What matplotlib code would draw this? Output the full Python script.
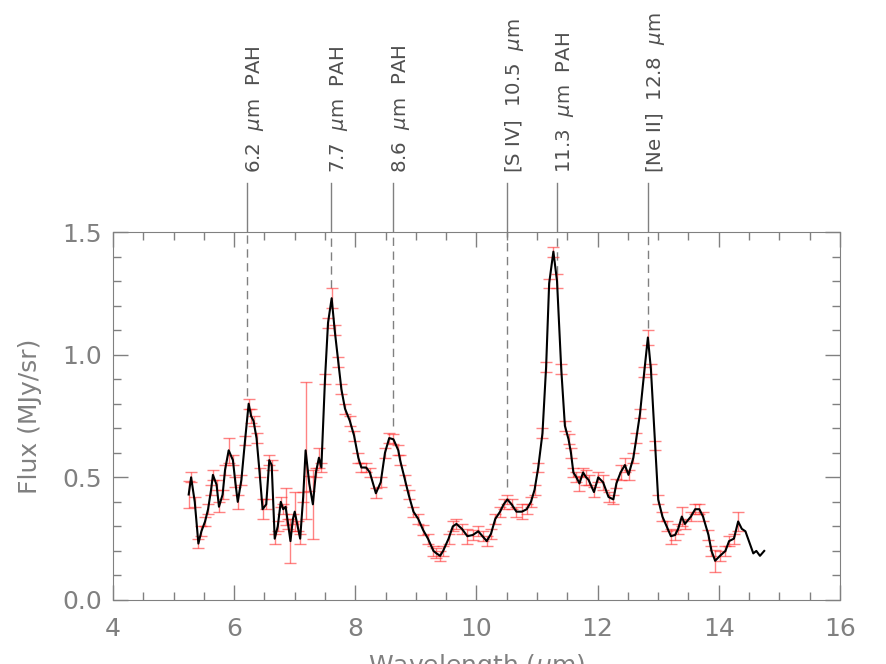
import matplotlib
matplotlib.use('Agg')
import matplotlib.pyplot as plt
import numpy as np

# spectrum
wave = [5.25, 5.29, 5.35, 5.41, 5.46, 5.52, 5.57, 5.62, 5.65, 5.71,
        5.75, 5.81, 5.85, 5.91, 5.98, 6.02, 6.06, 6.12, 6.18, 6.24,
        6.28, 6.32, 6.37, 6.42, 6.47, 6.53, 6.58, 6.62, 6.67, 6.72,
        6.77, 6.81, 6.85, 6.89, 6.93, 6.97, 7.00, 7.05, 7.09, 7.14,
        7.18, 7.24, 7.30, 7.35, 7.40, 7.44, 7.50, 7.55, 7.61, 7.66,
        7.72, 7.77, 7.83, 7.91, 7.98, 8.05, 8.10, 8.18, 8.24, 8.34,
        8.42, 8.49, 8.56, 8.63, 8.71, 8.74, 8.82, 8.88, 8.96, 9.04,
        9.12, 9.20, 9.29, 9.34, 9.40, 9.45, 9.54, 9.61, 9.67, 9.76,
        9.85, 9.94, 10.03, 10.10, 10.17, 10.24, 10.31, 10.39, 10.45, 10.51,
        10.58, 10.66, 10.75, 10.83, 10.90, 10.96, 11.02, 11.09, 11.15, 11.20,
        11.27, 11.33, 11.40, 11.46, 11.52, 11.56, 11.60, 11.65, 11.70, 11.76,
        11.81, 11.85, 11.94, 12.01, 12.09, 12.18, 12.26, 12.31, 12.38, 12.45,
        12.51, 12.59, 12.64, 12.70, 12.77, 12.83, 12.88, 12.95, 13.00, 13.07,
        13.14, 13.21, 13.28, 13.33, 13.39, 13.44, 13.54, 13.61, 13.68, 13.74,
        13.83, 13.88, 13.94, 14.02, 14.11, 14.17, 14.25, 14.32, 14.38, 14.44,
        14.57, 14.62, 14.68, 14.75]
flux = [0.43, 0.50, 0.40, 0.23, 0.28, 0.32, 0.37, 0.45, 0.51, 0.47,
        0.38, 0.43, 0.53, 0.61, 0.57, 0.48, 0.40, 0.49, 0.65, 0.80,
        0.75, 0.73, 0.66, 0.52, 0.37, 0.39, 0.57, 0.55, 0.25, 0.30,
        0.40, 0.37, 0.38, 0.31, 0.24, 0.33, 0.36, 0.30, 0.25, 0.42,
        0.61, 0.475, 0.39, 0.52, 0.58, 0.54, 0.90, 1.13, 1.23, 1.10,
        0.97, 0.86, 0.78, 0.73, 0.67, 0.58, 0.54, 0.54, 0.52, 0.435,
        0.48, 0.60, 0.66, 0.655, 0.61, 0.57, 0.49, 0.43, 0.36, 0.33,
        0.285, 0.25, 0.20, 0.19, 0.18, 0.20, 0.25, 0.30, 0.31, 0.29,
        0.26, 0.265, 0.28, 0.26, 0.24, 0.27, 0.33, 0.36, 0.39, 0.41,
        0.39, 0.36, 0.36, 0.37, 0.40, 0.45, 0.54, 0.68, 0.95, 1.29,
        1.42, 1.30, 0.94, 0.71, 0.655, 0.60, 0.52, 0.50, 0.475, 0.52,
        0.50, 0.49, 0.44, 0.50, 0.48, 0.42, 0.41, 0.475, 0.52, 0.55,
        0.51, 0.58, 0.66, 0.76, 0.93, 1.07, 0.94, 0.63, 0.41, 0.34,
        0.30, 0.26, 0.265, 0.29, 0.34, 0.31, 0.34, 0.37, 0.37, 0.34,
        0.265, 0.20, 0.16, 0.18, 0.20, 0.24, 0.25, 0.32, 0.29, 0.28,
        0.19, 0.20, 0.18, 0.20]
nan = np.nan
err = [0.055, 0.02, 0.02, 0.02, 0.02, 0.02, 0.02, 0.02, 0.02, 0.02,
       0.02, 0.02, 0.02, 0.05, 0.02, 0.02, 0.03, 0.02, 0.02, 0.02,
       0.03, 0.02, 0.02, 0.02, 0.04, 0.02, 0.02, 0.02, 0.02, 0.02,
       0.02, 0.02, 0.075, 0.02, 0.09, 0.02, 0.08, 0.02, 0.02, 0.02,
       0.28, 0.03, 0.14, 0.02, 0.04, 0.02, 0.02, 0.02, 0.04, 0.02,
       0.02, 0.02, 0.02, 0.02, 0.02, 0.02, 0.02, 0.02, 0.02, 0.02,
       0.02, 0.02, 0.02, 0.02, 0.02, 0.02, 0.02, 0.02, 0.02, 0.02,
       0.02, 0.02, 0.02, 0.02, 0.02, 0.02, 0.02, 0.02, 0.02, 0.02,
       0.03, 0.02, 0.02, 0.02, 0.02, 0.02, 0.02, 0.02, 0.02, 0.02,
       0.02, 0.02, 0.03, 0.02, 0.02, 0.02, 0.02, 0.02, 0.02, 0.02,
       0.02, 0.03, 0.02, 0.02, 0.02, 0.02, 0.02, 0.02, 0.03, 0.02,
       0.03, 0.02, 0.02, 0.02, 0.03, 0.02, 0.02, 0.02, 0.03, 0.03,
       0.02, 0.02, 0.02, 0.02, 0.02, 0.03, 0.02, 0.02, 0.02, 0.02,
       0.02, 0.03, 0.02, 0.02, 0.04, 0.02, 0.02, 0.02, 0.02, 0.02,
       0.02, 0.02, 0.045, 0.02, 0.02, 0.02, 0.02, 0.04, nan, nan,
       nan, nan, nan, nan]

# line identifications
line_pos = [6.22, 7.6, 8.62, 10.5, 11.33, 12.83]
line_top = [0.83, 1.27, 0.71, 0.46, 1.33, 1.11]
line_lab = ['6.2  $\\mu$m  PAH', '7.7  $\\mu$m  PAH', '8.6  $\\mu$m  PAH',
            '[S IV]  10.5  $\\mu$m', '11.3  $\\mu$m  PAH', '[Ne II]  12.8  $\\mu$m']

grey = '#808080'
plt.rcParams['font.family'] = 'DejaVu Sans'
plt.rcParams['mathtext.fontset'] = 'dejavusans'

fig = plt.figure(figsize=(8.86, 6.64), dpi=100)
ax = fig.add_axes([0.1275, 0.0964, 0.8205, 0.5542])

ax.errorbar(wave, flux, yerr=err, fmt='none', ecolor='#ff3030', alpha=0.6,
            elinewidth=1, capsize=4.5, capthick=1, zorder=2)
ax.plot(wave, flux, color='black', lw=1.5, zorder=3)

for x, top, lab in zip(line_pos, line_top, line_lab):
    ax.plot([x, x], [top, 1.5], color=grey, lw=1, dashes=(6, 4), zorder=1)
    ax.plot([x, x], [1.505, 1.70], color=grey, lw=1, clip_on=False)
    ax.text(x + 0.13, 1.74, lab, rotation=90, ha='center', va='bottom',
            fontsize=14.2, color='#505050', clip_on=False)

ax.set_xlim(4, 16)
ax.set_ylim(0, 1.5)
ax.set_xticks(np.arange(4, 17, 2))
ax.set_xticks(np.arange(4, 16.01, 0.5), minor=True)
ax.set_yticks([0.0, 0.5, 1.0, 1.5])
ax.set_yticklabels(['0.0', '0.5', '1.0', '1.5'])
ax.set_yticks(np.arange(0, 1.501, 0.1), minor=True)

ax.tick_params(which='both', direction='in', top=True, right=True,
               colors=grey, labelcolor=grey, labelsize=18, width=1)
ax.tick_params(which='major', length=11)
ax.tick_params(which='minor', length=6)
ax.tick_params(axis='x', pad=12)
ax.tick_params(axis='y', pad=8)
for s in ax.spines.values():
    s.set_color(grey)

ax.set_xlabel('Wavelength ($\\mu$m)', fontsize=18, color=grey)
ax.xaxis.set_label_coords(0.5, -0.141)
ax.set_ylabel('Flux (MJy/sr)', fontsize=18, color=grey)
ax.yaxis.set_label_coords(-0.098, 0.5)

fig.savefig('out.png', dpi=100)
